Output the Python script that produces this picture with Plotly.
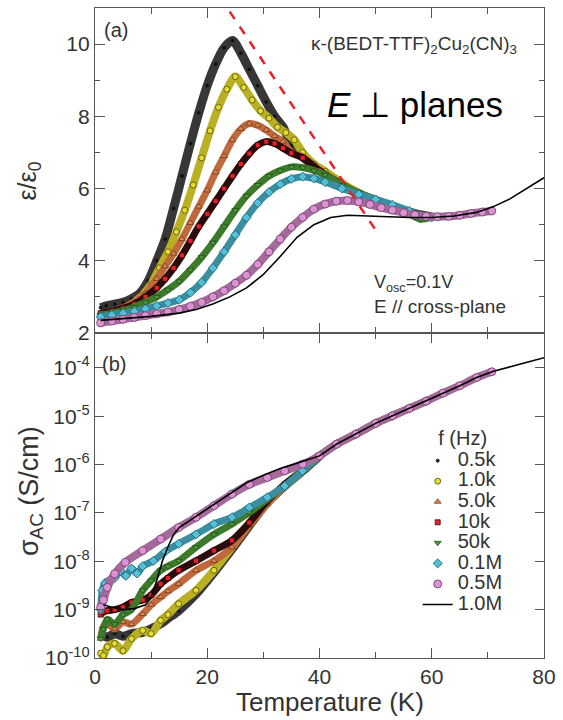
import plotly.graph_objects as go
from plotly.subplots import make_subplots

FONT = "Liberation Sans, Arial, sans-serif"

labels = ["0.5k", "1.0k", "5.0k", "10k", "50k", "0.1M", "0.5M", "1.0M"]

# ---------------- panel (a): eps/eps0 vs T ----------------
T_a_05k = [1.0, 2.0, 3.5, 5.0, 6.5, 8.0, 9.5, 11.0, 12.5, 14.0, 15.5, 17.0, 18.5, 20.0, 21.5, 23.0, 24.5,
           26.0, 27.5, 29.0, 30.5, 32.0, 33.5, 35.0, 37.0, 40.0, 43.0, 46.0, 49.0, 52.0, 55.0, 58.0, 60.0]
eps_05k = [2.7, 2.75, 2.8, 2.85, 2.95, 3.1, 3.45, 4.0, 4.6, 5.45, 6.35, 7.25, 8.1, 8.85, 9.45, 9.9, 10.1,
           9.75, 9.3, 8.85, 8.4, 8.0, 7.7, 7.2, 6.88, 6.5, 6.2, 5.93, 5.72, 5.55, 5.4, 5.27, 5.22]

T_a_1k = [1.0, 2.5, 4.0, 5.5, 7.0, 8.5, 10.0, 11.5, 13.0, 14.5, 16.0, 17.5, 19.0, 20.5, 22.0, 23.5, 25.0,
          26.5, 28.0, 29.5, 31.0, 32.5, 34.0, 35.5, 37.0, 39.0, 41.0, 44.0, 47.0, 50.0, 53.0, 56.0, 59.0]
eps_1k = [2.4, 2.5, 2.6, 2.7, 2.85, 3.05, 3.35, 3.8, 4.25, 4.8, 5.4, 6.1, 6.85, 7.6, 8.25, 8.75, 9.1,
          8.8, 8.45, 8.15, 7.95, 7.7, 7.55, 7.35, 7.0, 6.68, 6.48, 6.15, 5.88, 5.67, 5.5, 5.33, 5.22]

T_a_5k = [1.0, 3.0, 5.0, 7.0, 9.0, 11.0, 12.5, 14.0, 15.5, 17.0, 18.5, 20.0, 21.5, 23.0, 24.5, 26.0,
          27.5, 29.0, 30.5, 32.0, 33.5, 35.0, 37.0, 40.0, 43.0, 46.0, 49.0, 52.0, 55.0, 58.0, 60.0]
eps_5k = [2.55, 2.6, 2.7, 2.85, 3.1, 3.5, 3.85, 4.2, 4.6, 5.05, 5.5, 5.95, 6.45, 6.9, 7.35, 7.65,
          7.8, 7.75, 7.62, 7.45, 7.3, 7.0, 6.88, 6.5, 6.2, 5.93, 5.72, 5.55, 5.4, 5.27, 5.22]

T_a_10k = [1.0, 3.0, 5.0, 7.0, 9.0, 11.0, 12.5, 14.0, 15.5, 17.0, 18.5, 20.0, 21.5, 23.0, 24.5, 26.0,
           27.5, 29.0, 30.5, 32.0, 33.5, 35.0, 37.0, 40.0, 43.0, 46.0, 49.0, 52.0, 55.0, 58.0, 60.0]
eps_10k = [2.55, 2.6, 2.68, 2.8, 3.0, 3.25, 3.5, 3.8, 4.15, 4.55, 4.95, 5.3, 5.65, 6.0, 6.35, 6.68,
           6.97, 7.2, 7.3, 7.25, 7.12, 6.98, 6.85, 6.5, 6.2, 5.93, 5.72, 5.55, 5.4, 5.27, 5.22]

T_a_50k = [1.0, 3.0, 5.0, 7.0, 9.0, 11.0, 13.0, 15.0, 17.0, 19.0, 21.0, 23.0, 25.0, 27.0, 29.0, 31.0,
           33.0, 35.0, 37.0, 39.0, 41.0, 44.0, 47.0, 50.0, 53.0, 56.0, 58.0, 60.0]
eps_50k = [2.5, 2.55, 2.62, 2.72, 2.85, 3.0, 3.2, 3.43, 3.75, 4.1, 4.5, 4.95, 5.4, 5.8, 6.1, 6.35,
           6.5, 6.6, 6.58, 6.5, 6.38, 6.1, 5.88, 5.7, 5.5, 5.3, 5.15, 5.2]

T_a_01M = [1.0, 3.0, 5.0, 7.0, 9.0, 11.0, 13.0, 15.0, 17.0, 19.0, 21.0, 23.0, 25.0, 27.0, 29.0, 31.0,
           33.0, 35.0, 37.0, 39.0, 41.0, 44.0, 47.0, 50.0, 53.0, 56.0, 58.0, 60.0]
eps_01M = [2.45, 2.5, 2.55, 2.6, 2.67, 2.75, 2.83, 2.92, 3.12, 3.4, 3.8, 4.25, 4.72, 5.2, 5.6, 5.9,
           6.12, 6.27, 6.33, 6.28, 6.18, 6.0, 5.84, 5.7, 5.55, 5.38, 5.25, 5.2]

T_a_05M = [1, 3, 5, 7, 9, 11, 13, 15, 17, 19, 21, 23, 25, 27, 29, 31, 33, 35, 37, 39, 41, 43, 45, 47,
           49, 51, 53, 55, 57, 59, 61, 63, 65, 67, 69, 70.7]
eps_05M = [2.28, 2.33, 2.38, 2.43, 2.48, 2.53, 2.58, 2.65, 2.74, 2.85, 3.0, 3.17, 3.38, 3.6, 3.9, 4.25,
           4.6, 4.93, 5.2, 5.43, 5.57, 5.65, 5.67, 5.63, 5.56, 5.47, 5.4, 5.33, 5.27, 5.23, 5.22, 5.23,
           5.26, 5.31, 5.35, 5.38]

T_a_1M = [1, 5, 10, 15, 18, 21, 24, 27, 30, 33, 36, 39, 42, 45, 48, 52, 56, 60, 64, 68, 71, 74, 77, 80]
eps_1M = [2.35, 2.4, 2.46, 2.55, 2.65, 2.8, 3.0, 3.25, 3.62, 4.12, 4.65, 5.0, 5.2, 5.26, 5.24, 5.21,
          5.2, 5.2, 5.24, 5.34, 5.5, 5.72, 6.0, 6.3]

# peak-position guide (red dashed)
T_peak_guide = [24.0, 50.0]
eps_peak_guide = [10.9, 4.85]

# ---------------- panel (b): sigma_AC vs T ----------------
tail_T = [43.0, 46.5, 50.0, 53.0, 56.0, 59.0]
tail_sig = [2.63e-6, 4.27e-6, 7.1e-6, 1.02e-5, 1.45e-5, 2.04e-5]

T_b_05k = [1.0, 2.2, 3.5, 5.0, 6.5, 8.5, 10.0, 11.7, 13.0, 14.9, 18.0, 21.2, 24.4, 27.5, 30.7, 33.8,
           37.0, 40.0]
sig_05k = [3.2e-10, 2.7e-10, 3.2e-10, 2.8e-10, 3.2e-10, 3.4e-10, 4.0e-10, 5.1e-10, 6.6e-10, 9.5e-10,
           2.1e-9, 5.9e-9, 1.78e-8, 5.5e-8, 1.66e-7, 3.6e-7, 7.4e-7, 1.51e-6]

T_b_1k = [1.0, 1.5, 2.2, 3.5, 5.0, 6.5, 8.5, 10.0, 11.7, 13.0, 14.9, 18.0, 21.2, 24.4, 27.5, 30.7,
          33.8, 37.0, 40.0]
sig_1k = [1.26e-10, 1.12e-10, 1.7e-10, 2.0e-10, 1.41e-10, 2.5e-10, 3.7e-10, 3.2e-10, 6.0e-10, 7.9e-10,
          1.32e-9, 2.5e-9, 6.5e-9, 1.95e-8, 5.9e-8, 1.66e-7, 3.6e-7, 7.4e-7, 1.51e-6]

T_b_5k = [1.0, 1.5, 2.2, 3.5, 5.0, 6.5, 8.5, 10.0, 11.7, 13.0, 14.9, 18.0, 21.2, 24.4, 27.5, 30.7,
          33.8, 37.0, 40.0]
sig_5k = [2.5e-10, 4.5e-10, 5.1e-10, 4.0e-10, 5.6e-10, 5.0e-10, 8.1e-10, 1.26e-9, 1.82e-9, 2.4e-9,
          3.4e-9, 6.5e-9, 1.02e-8, 1.95e-8, 5.5e-8, 1.51e-7, 3.6e-7, 7.4e-7, 1.51e-6]

T_b_10k = [1.0, 1.5, 2.2, 3.5, 5.0, 6.5, 8.5, 10.0, 11.7, 13.0, 14.9, 18.0, 21.2, 24.4, 27.5, 30.7,
           33.8, 37.0, 40.0]
sig_10k = [7.9e-10, 8.9e-10, 9.5e-10, 1.0e-9, 1.12e-9, 1.41e-9, 1.58e-9, 2.0e-9, 3.4e-9, 4.5e-9,
           6.5e-9, 1.02e-8, 1.66e-8, 2.7e-8, 6.3e-8, 1.78e-7, 3.9e-7, 7.4e-7, 1.51e-6]

T_b_50k = [1.0, 1.5, 2.2, 3.5, 5.0, 6.5, 8.5, 10.0, 11.7, 13.0, 14.9, 18.0, 21.2, 24.4, 27.5, 30.7,
           33.8, 37.0, 40.0]
sig_50k = [2.5e-10, 4.0e-10, 6.3e-10, 5.0e-10, 7.9e-10, 1.0e-9, 2.5e-9, 4.0e-9, 6.5e-9, 7.9e-9,
           1.02e-8, 1.95e-8, 3.6e-8, 5.9e-8, 1.02e-7, 1.95e-7, 3.6e-7, 7.4e-7, 1.51e-6]

T_b_01M = [1.0, 1.3, 1.8, 2.5, 3.5, 4.5, 5.5, 6.5, 7.5, 8.5, 10.4, 12.5, 14.9, 18.0, 21.2, 24.4, 27.5,
           30.7, 33.8, 37.0, 40.0]
sig_01M = [1.0e-9, 2.5e-9, 3.55e-9, 4.0e-9, 4.5e-9, 6.3e-9, 5.0e-9, 7.1e-9, 5.6e-9, 7.9e-9, 1.02e-8,
           1.58e-8, 2.3e-8, 3.6e-8, 5.9e-8, 8.1e-8, 1.29e-7, 2.1e-7, 3.6e-7, 7.4e-7, 1.51e-6]

T_b_05M = [1.0, 1.5, 2.2, 3.5, 5.4, 8.5, 11.7, 14.9, 18.0, 21.2, 24.4, 27.5, 30.7, 33.8, 37.0, 40.0,
           43.0, 46.5, 50.0, 53.0, 56.0, 59.0, 62.0, 65.0, 68.0, 70.7]
sig_05M = [1.12e-9, 1.58e-9, 2.88e-9, 5.5e-9, 9.5e-9, 1.66e-8, 2.88e-8, 5.0e-8, 8.1e-8, 1.41e-7,
           2.45e-7, 3.9e-7, 5.4e-7, 7.4e-7, 1.02e-6, 1.51e-6, 2.63e-6, 4.27e-6, 7.1e-6, 1.02e-5,
           1.45e-5, 2.04e-5, 3.0e-5, 4.27e-5, 6.3e-5, 8.3e-5]

T_b_1M = [1.5, 3.0, 5.0, 7.0, 9.0, 10.0, 11.0, 12.0, 13.0, 14.0, 15.0, 18.0, 21.0, 24.0, 27.0, 30.0,
          33.0, 36.0, 40.0, 43.0, 46.5, 50.0, 53.0, 56.0, 59.0, 62.0, 65.0, 68.0, 71.0, 74.0, 77.0, 80.0]
sig_1M = [1.26e-9, 1.12e-9, 1.0e-9, 1.05e-9, 1.26e-9, 1.78e-9, 4.0e-9, 1.0e-8, 2.0e-8, 3.55e-8, 5.0e-8,
          8.5e-8, 1.45e-7, 2.5e-7, 4.2e-7, 6.0e-7, 8.3e-7, 1.07e-6, 1.51e-6, 2.63e-6, 4.27e-6, 7.1e-6,
          1.02e-5, 1.45e-5, 2.04e-5, 3.0e-5, 4.27e-5, 6.3e-5, 8.5e-5, 1.05e-4, 1.32e-4, 1.62e-4]

top_data = {
    "0.5k": (T_a_05k, eps_05k), "1.0k": (T_a_1k, eps_1k), "5.0k": (T_a_5k, eps_5k),
    "10k": (T_a_10k, eps_10k), "50k": (T_a_50k, eps_50k), "0.1M": (T_a_01M, eps_01M),
    "0.5M": (T_a_05M, eps_05M), "1.0M": (T_a_1M, eps_1M),
}
bot_data = {
    "0.5k": (T_b_05k, sig_05k), "1.0k": (T_b_1k + tail_T, sig_1k + tail_sig),
    "5.0k": (T_b_5k + tail_T, sig_5k + tail_sig), "10k": (T_b_10k + tail_T, sig_10k + tail_sig),
    "50k": (T_b_50k + tail_T, sig_50k + tail_sig), "0.1M": (T_b_01M + tail_T, sig_01M + tail_sig),
    "0.5M": (T_b_05M, sig_05M), "1.0M": (T_b_1M, sig_1M),
}

style = {
    "0.5k": dict(sym="circle", ms=3, fill="#111111", edge="#111111", band="rgba(20,20,20,0.85)", bw=9),
    "1.0k": dict(sym="circle", ms=6, fill="#e6dc2a", edge="#4a4a20", band="#b9b023", bw=8),
    "5.0k": dict(sym="triangle-up", ms=6, fill="#e0864e", edge="#6a3a20", band="#c0693c", bw=7),
    "10k": dict(sym="square", ms=5, fill="#e5202a", edge="#330808", band="#2a0c0c", bw=7),
    "50k": dict(sym="triangle-down", ms=6, fill="#4f9a3a", edge="#1f4a18", band="#3d7a2c", bw=7),
    "0.1M": dict(sym="diamond", ms=7, fill="#52c0d8", edge="#1f5a66", band="#3a8ea0", bw=7),
    "0.5M": dict(sym="circle", ms=8, fill="#dc92d2", edge="#6a3a64", band="#a46a9c", bw=8),
}

fig = make_subplots(rows=2, cols=1, shared_xaxes=True, vertical_spacing=0)


def add_series(row, key, T, vals, legend):
    if key == "1.0M":
        fig.add_trace(go.Scatter(x=T, y=vals, mode="lines", line=dict(color="black", width=1.6),
                                 name='<span style="font-size:20px">' + key + '</span>',
                                 showlegend=legend, legendgroup=key), row=row, col=1)
        return
    st = style[key]
    fig.add_trace(go.Scatter(x=T, y=vals, mode="lines",
                             line=dict(color=st["band"], width=st["bw"], shape="spline", smoothing=0.8),
                             showlegend=False, hoverinfo="skip", legendgroup=key), row=row, col=1)
    fig.add_trace(go.Scatter(x=T, y=vals, mode="markers",
                             marker=dict(symbol=st["sym"], size=st["ms"], color=st["fill"],
                                         line=dict(color=st["edge"], width=0.8)),
                             name='<span style="font-size:20px">' + key + '</span>',
                             showlegend=legend, legendgroup=key), row=row, col=1)


for key in labels:
    add_series(1, key, *top_data[key], legend=False)
fig.add_trace(go.Scatter(x=T_peak_guide, y=eps_peak_guide, mode="lines",
                         line=dict(color="#e8202a", width=2.5, dash="dash"), showlegend=False),
              row=1, col=1)
for key in labels:
    add_series(2, key, *bot_data[key], legend=True)

tickfont = dict(family=FONT, size=21, color="#333333")
axcommon = dict(showline=True, linecolor="#555555", linewidth=1.3, mirror="ticks", ticks="inside",
                tickcolor="#555555", showgrid=False, zeroline=False, tickfont=tickfont)

fig.update_xaxes(range=[0, 80], tickmode="linear", tick0=0, dtick=20, ticklen=10, tickwidth=1.3,
                 minor=dict(ticks="inside", dtick=10, tick0=0, ticklen=6, tickcolor="#555555", tickwidth=1.3),
                 **axcommon)
fig.update_xaxes(showticklabels=False, row=1, col=1)
fig.update_yaxes(range=[2, 11], tickmode="linear", tick0=2, dtick=2, ticklen=10, tickwidth=1.3,
                 minor=dict(ticks="inside", dtick=1, tick0=2, ticklen=5, tickcolor="#555555", tickwidth=1.3),
                 row=1, col=1, **axcommon)
sig_ticks = [1e-10, 1e-9, 1e-8, 1e-7, 1e-6, 1e-5, 1e-4]
sig_ticktext = ["10<sup>-10</sup>", "10<sup>-9</sup>", "10<sup>-8</sup>", "10<sup>-7</sup>",
                "10<sup>-6</sup>", "10<sup>-5</sup>", "10<sup>-4</sup>"]
fig.update_yaxes(type="log", range=[-10, -3.28], tickmode="array", tickvals=sig_ticks,
                 ticktext=sig_ticktext, ticklen=9, tickwidth=1.3, row=2, col=1, **axcommon)


def px(xp):
    return (xp - 95) / 455.0


def py(yp):
    return (658 - yp) / 651.0


ann = [
    dict(text="(a)", x=px(116), y=py(29), size=20, xanchor="center"),
    dict(text="κ-(BEDT-TTF)<sub>2</sub>Cu<sub>2</sub>(CN)<sub>3</sub>", x=px(525), y=py(44), size=19,
         xanchor="right"),
    dict(text="<i>E</i> ⊥ planes", x=px(510), y=py(104), size=35, xanchor="right", color="#000000"),
    dict(text="V<sub>osc</sub>=0.1V", x=px(376), y=py(283), size=18, xanchor="left"),
    dict(text="E // cross-plane", x=px(376), y=py(306), size=19, xanchor="left"),
    dict(text="(b)", x=px(114), y=py(364), size=20, xanchor="center"),
    dict(text="Temperature (K)", x=px(333), y=py(702), size=26, xanchor="center"),
]
for a in ann:
    fig.add_annotation(text=a["text"], x=a["x"], y=a["y"], xref="paper", yref="paper",
                       xanchor=a["xanchor"], yanchor="middle", showarrow=False,
                       font=dict(family=FONT, size=a["size"], color=a.get("color", "#333333")))

fig.add_annotation(text="ε/ε<sub>0</sub>", x=px(28), y=py(180), xref="paper", yref="paper",
                   textangle=-90, showarrow=False, xanchor="center", yanchor="middle",
                   font=dict(family=FONT, size=25, color="#333333"))
fig.add_annotation(text="σ<sub>AC</sub> (S/cm)", x=px(30), y=py(491), xref="paper", yref="paper",
                   textangle=-90, showarrow=False, xanchor="center", yanchor="middle",
                   font=dict(family=FONT, size=27, color="#333333"))

fig.update_layout(
    width=563, height=720,
    margin=dict(l=95, r=13, t=7, b=62),
    paper_bgcolor="white", plot_bgcolor="white",
    font=dict(family=FONT, color="#333333"),
    legend=dict(x=px(422), y=py(419), xanchor="left", yanchor="top", bgcolor="rgba(0,0,0,0)",
                font=dict(family=FONT, size=13.5, color="#333333"),
                title=dict(text="f (Hz)", side="top center", font=dict(family=FONT, size=20, color="#333333")),
                tracegroupgap=0),
)

fig.write_html("out.html")
